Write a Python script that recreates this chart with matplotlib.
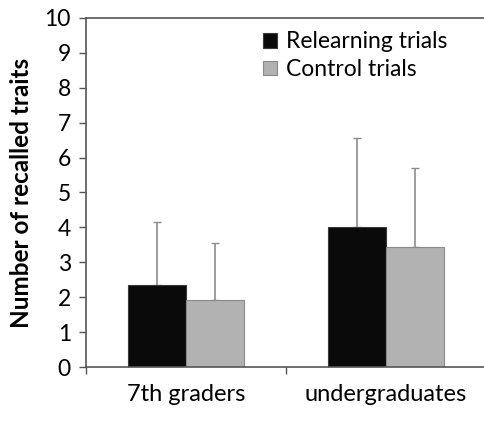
import numpy as np
import matplotlib
matplotlib.use("Agg")
import matplotlib.pyplot as plt

# data
groups = ["7th graders", "undergraduates"]
relearning = [2.35, 4.0]
relearning_err = [1.8, 2.57]
control = [1.92, 3.45]
control_err = [1.63, 2.25]

plt.rcParams['font.family'] = ['Lato', 'DejaVu Sans']

fig = plt.figure(figsize=(4.84, 4.23), dpi=100)
ax = fig.add_axes([0.178, 0.132, 0.826, 0.826])

x = np.arange(len(groups))
w = 0.29

ax.bar(x - w / 2, relearning, w, color='#0a0a0a', edgecolor='#3a3a3a',
       linewidth=0.8, label='Relearning trials', zorder=2)
ax.bar(x + w / 2, control, w, color='#b2b2b2', edgecolor='#8a8a8a',
       linewidth=0.8, label='Control trials', zorder=2)

ax.errorbar(x - w / 2, relearning, yerr=[np.zeros(2), relearning_err],
            fmt='none', ecolor='#8c8c8c', elinewidth=1.2, capsize=3, zorder=1)
ax.errorbar(x + w / 2, control, yerr=[np.zeros(2), control_err],
            fmt='none', ecolor='#8c8c8c', elinewidth=1.2, capsize=3, zorder=1)

ax.set_xlim(-0.5, 1.5)
ax.set_ylim(0, 10)
ax.set_yticks(range(0, 11))
ax.tick_params(axis='y', labelsize=16.5, direction='out', length=5,
               color='#555555', width=1, pad=6)

# ticks between categories, labels at centers
ax.set_xticks([-0.5, 0.5, 1.5])
ax.set_xticklabels([])
ax.set_xticks(x, minor=True)
ax.set_xticklabels(groups, minor=True)
ax.tick_params(axis='x', which='major', direction='out', length=5,
               color='#555555', width=1)
ax.tick_params(axis='x', which='minor', length=0, labelsize=17, pad=12)

ax.set_ylabel('Number of recalled traits', fontsize=17.5, fontweight='bold',
              labelpad=8)

for s in ['left', 'bottom', 'top']:
    ax.spines[s].set_color('#555555')
    ax.spines[s].set_linewidth(1.2)
ax.spines['right'].set_visible(False)

ax.legend(loc='upper right', bbox_to_anchor=(0.955, 1.02), frameon=False,
          fontsize=16.5, handlelength=0.6, handleheight=0.6, handletextpad=0.4,
          labelspacing=0.3)

fig.savefig('out.png', dpi=100)
